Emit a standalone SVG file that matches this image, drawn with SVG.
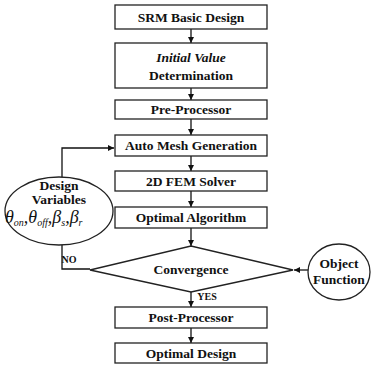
<svg xmlns="http://www.w3.org/2000/svg" width="372" height="366" viewBox="0 0 372 366">
  <style>
    .box { fill: #fff; stroke: #222; stroke-width: 1.3; }
    .lbl { font-family: "Liberation Serif", "Times New Roman", "DejaVu Serif", serif; font-weight: bold; font-size: 13.5px; fill: #111; text-anchor: middle; }
    .it { font-style: italic; }
    .small { font-size: 10px; }
    .conn { fill: none; stroke: #111; stroke-width: 1.3; }
    .greek { font-family: "Liberation Serif", "Times New Roman", "DejaVu Serif", serif; font-style: italic; font-size: 18px; fill: #111; }
    .sub { font-size: 10px; }
  </style>
  <defs>
    <marker id="arr" viewBox="0 0 10 10" refX="10" refY="5" markerWidth="6" markerHeight="6" markerUnits="userSpaceOnUse" orient="auto">
      <path d="M0,0 L10,5 L0,10 z" fill="#111"/>
    </marker>
  </defs>

  <g id="connectors">
    <line class="conn" x1="191" y1="29" x2="191" y2="43" marker-end="url(#arr)"/>
    <line class="conn" x1="191" y1="88" x2="191" y2="100" marker-end="url(#arr)"/>
    <line class="conn" x1="191" y1="119" x2="191" y2="135" marker-end="url(#arr)"/>
    <line class="conn" x1="191" y1="156" x2="191" y2="171" marker-end="url(#arr)"/>
    <line class="conn" x1="191" y1="191" x2="191" y2="207" marker-end="url(#arr)"/>
    <line class="conn" x1="191" y1="228" x2="191" y2="246" marker-end="url(#arr)"/>
    <line class="conn" x1="191" y1="292" x2="191" y2="307" marker-end="url(#arr)"/>
    <line class="conn" x1="191" y1="328" x2="191" y2="343" marker-end="url(#arr)"/>
    <!-- feedback loop through the design variables -->
    <polyline class="conn" points="62,178 62,148 114,148" marker-end="url(#arr)"/>
    <polyline class="conn" points="62,245 62,269 90,269"/>
    <!-- object function into the convergence test -->
    <line class="conn" x1="308" y1="270" x2="294" y2="270" marker-end="url(#arr)"/>
    <text class="lbl small" x="69" y="263">NO</text>
    <text class="lbl small" x="207" y="300">YES</text>
  </g>

  <g id="srm-basic-design">
    <rect class="box" x="115" y="5" width="152" height="24"/>
    <text class="lbl" x="191" y="22">SRM Basic Design</text>
  </g>
  <g id="initial-value">
    <rect class="box" x="115" y="43" width="152" height="45"/>
    <text class="lbl it" x="191" y="62">Initial Value</text>
    <text class="lbl" x="191" y="80">Determination</text>
  </g>
  <g id="pre-processor">
    <rect class="box" x="115" y="100" width="152" height="19"/>
    <text class="lbl" x="191" y="114">Pre-Processor</text>
  </g>
  <g id="auto-mesh">
    <rect class="box" x="115" y="135" width="152" height="21"/>
    <text class="lbl" x="191" y="150">Auto Mesh Generation</text>
  </g>
  <g id="fem-solver">
    <rect class="box" x="115" y="171" width="152" height="20"/>
    <text class="lbl" x="191" y="186">2D FEM Solver</text>
  </g>
  <g id="optimal-algorithm">
    <rect class="box" x="115" y="207" width="152" height="21"/>
    <text class="lbl" x="191" y="222">Optimal Algorithm</text>
  </g>
  <g id="convergence">
    <polygon class="box" points="90,270 191,246 293,270 191,292"/>
    <text class="lbl" x="191" y="274">Convergence</text>
  </g>
  <g id="post-processor">
    <rect class="box" x="115" y="307" width="152" height="21"/>
    <text class="lbl" x="191" y="322">Post-Processor</text>
  </g>
  <g id="optimal-design">
    <rect class="box" x="115" y="343" width="152" height="20"/>
    <text class="lbl" x="191" y="358">Optimal Design</text>
  </g>

  <g id="design-variables">
    <ellipse class="box" cx="59" cy="211" rx="54" ry="34"/>
    <text class="lbl" x="59" y="190">Design</text>
    <text class="lbl" x="59" y="204">Variables</text>
    <text class="greek" x="5" y="223">θ<tspan class="sub" dy="3">on</tspan><tspan dy="-3">,θ</tspan><tspan class="sub" dy="3">off</tspan><tspan dy="-3">,β</tspan><tspan class="sub" dy="3">s</tspan><tspan dy="-3">,β</tspan><tspan class="sub" dy="3">r</tspan></text>
  </g>

  <g id="object-function">
    <ellipse class="box" cx="339" cy="272" rx="31" ry="28"/>
    <text class="lbl" x="339" y="268">Object</text>
    <text class="lbl" x="339" y="284">Function</text>
  </g>
</svg>
